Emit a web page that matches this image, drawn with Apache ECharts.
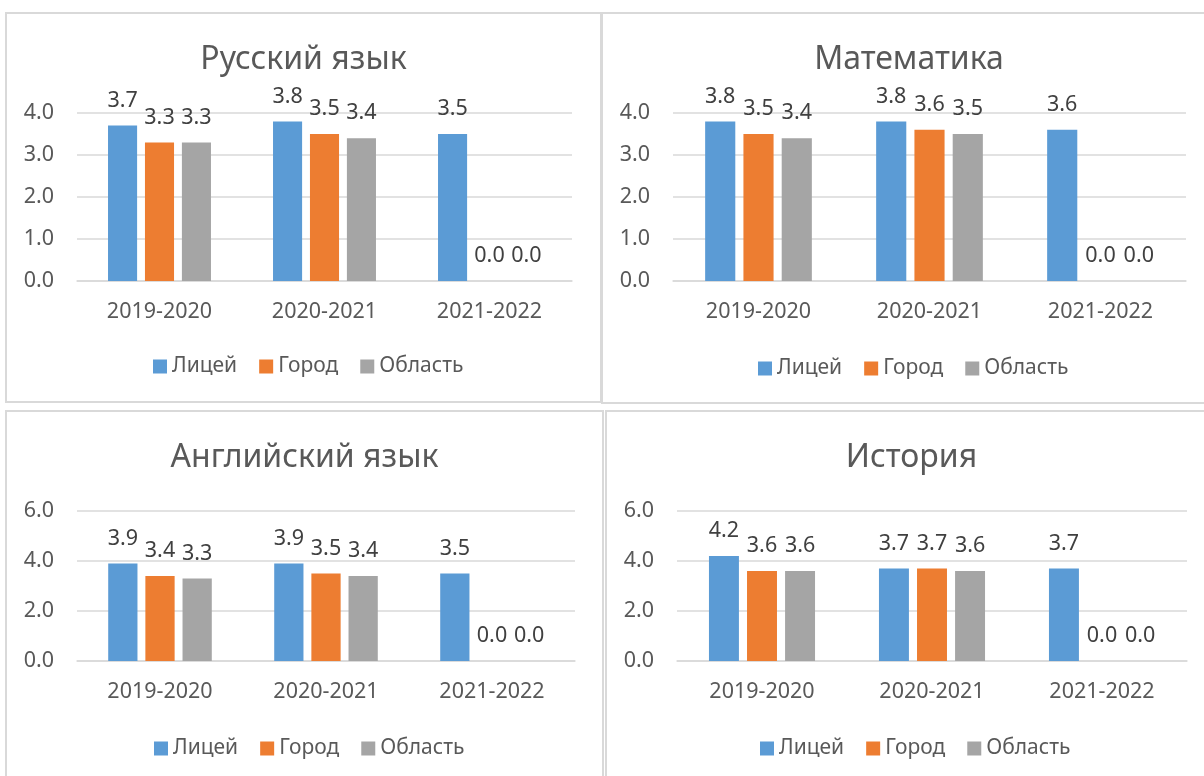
<!DOCTYPE html>
<html>
<head>
<meta charset="utf-8">
<script src="https://cdn.jsdelivr.net/npm/echarts@6/dist/echarts.min.js"></script>
<style>
html,body{margin:0;padding:0;background:#fff;}
#c{width:1204px;height:776px;}
</style>
</head>
<body>
<div id="c"></div>
<script>
const categories = ['2019-2020', '2020-2021', '2021-2022'];
const seriesNames = ['Лицей', 'Город', 'Область'];
const titles = ['Русский язык', 'Математика', 'Английский язык', 'История'];

const russianLyceum = [3.7, 3.8, 3.5];
const russianCity = [3.3, 3.5, 0.0];
const russianRegion = [3.3, 3.4, 0.0];

const mathLyceum = [3.8, 3.8, 3.6];
const mathCity = [3.5, 3.6, 0.0];
const mathRegion = [3.4, 3.5, 0.0];

const englishLyceum = [3.9, 3.9, 3.5];
const englishCity = [3.4, 3.5, 0.0];
const englishRegion = [3.3, 3.4, 0.0];

const historyLyceum = [4.2, 3.7, 3.7];
const historyCity = [3.6, 3.7, 0.0];
const historyRegion = [3.6, 3.6, 0.0];

const yMax = [4, 4, 6, 6];
const yInterval = [1, 1, 2, 2];

const panelData = [
  [russianLyceum, russianCity, russianRegion],
  [mathLyceum, mathCity, mathRegion],
  [englishLyceum, englishCity, englishRegion],
  [historyLyceum, historyCity, historyRegion]
];

const colors = ['#5B9BD5', '#ED7D31', '#A5A5A5'];
const FONT = '"Noto Sans", "DejaVu Sans", sans-serif';
const TXT = '#595959';

// layout
const grids = [
  {left: 77, top: 113, width: 495, height: 168},
  {left: 673, top: 113, width: 513, height: 168},
  {left: 77, top: 511, width: 498, height: 150},
  {left: 677, top: 511, width: 510, height: 150}
];
const panels = [
  {x: 6, y: 13, w: 595, h: 389},
  {x: 602, y: 13, w: 620, h: 390},
  {x: 6, y: 411, w: 597, h: 400},
  {x: 606, y: 411, w: 620, h: 400}
];
const titleCenters = [[303.5, 60], [909, 60], [304.5, 458], [911.5, 458]];
const legendPos = [[153, 356], [758, 358], [154, 738], [760, 738]];

const option = {
  backgroundColor: '#ffffff',
  animation: false,
  textStyle: {fontFamily: FONT},
  title: titles.map((t, i) => ({
    text: t,
    left: titleCenters[i][0],
    top: titleCenters[i][1] - 16,
    textAlign: 'center',
    padding: 0,
    textStyle: {fontFamily: FONT, fontSize: 32, fontWeight: 'normal', color: TXT}
  })),
  legend: legendPos.map((p, i) => ({
    left: p[0],
    top: p[1],
    padding: 0,
    itemWidth: 14,
    itemHeight: 14,
    itemGap: 22,
    icon: 'rect',
    data: seriesNames.map(n => n + '\u200B'.repeat(i)),
    formatter: name => name.replace(/\u200B/g, ''),
    textStyle: {fontFamily: FONT, fontSize: 21, color: TXT, padding: [0, 0, 0, 0]},
    selectedMode: false
  })),
  grid: grids.map(g => Object.assign({containLabel: false}, g)),
  xAxis: grids.map((g, i) => ({
    type: 'category',
    gridIndex: i,
    data: categories,
    axisTick: {show: false},
    axisLine: {show: true, lineStyle: {color: '#D9D9D9', width: 1.5}},
    axisLabel: {color: TXT, fontFamily: FONT, fontSize: 21.5, margin: 20}
  })),
  yAxis: grids.map((g, i) => ({
    type: 'value',
    gridIndex: i,
    min: 0,
    max: yMax[i],
    interval: yInterval[i],
    axisLine: {show: false},
    axisTick: {show: false},
    splitLine: {lineStyle: {color: '#D9D9D9', width: 1.5}},
    axisLabel: {color: TXT, fontFamily: FONT, fontSize: 21.5, margin: 23,
      formatter: v => v.toFixed(1)}
  })),
  series: [],
  graphic: panels.map(p => ({
    type: 'rect',
    shape: {x: p.x, y: p.y, width: p.w, height: p.h},
    style: {fill: 'none', stroke: '#D9D9D9', lineWidth: 2},
    silent: true,
    z: -10
  }))
};

panelData.forEach((arrs, i) => {
  arrs.forEach((arr, k) => {
    option.series.push({
      type: 'bar',
      name: seriesNames[k] + '\u200B'.repeat(i),
      xAxisIndex: i,
      yAxisIndex: i,
      data: arr,
      barGap: '27%',
      barCategoryGap: '37.6%',
      itemStyle: {color: colors[k]},
      label: {
        show: true,
        position: 'top',
        distance: 14,
        color: '#404040',
        fontFamily: FONT,
        fontSize: 21.5,
        formatter: p => Number(p.value).toFixed(1)
      }
    });
  });
});

const chart = echarts.init(document.getElementById('c'), null, {renderer: 'canvas'});
chart.setOption(option);
</script>
</body>
</html>
